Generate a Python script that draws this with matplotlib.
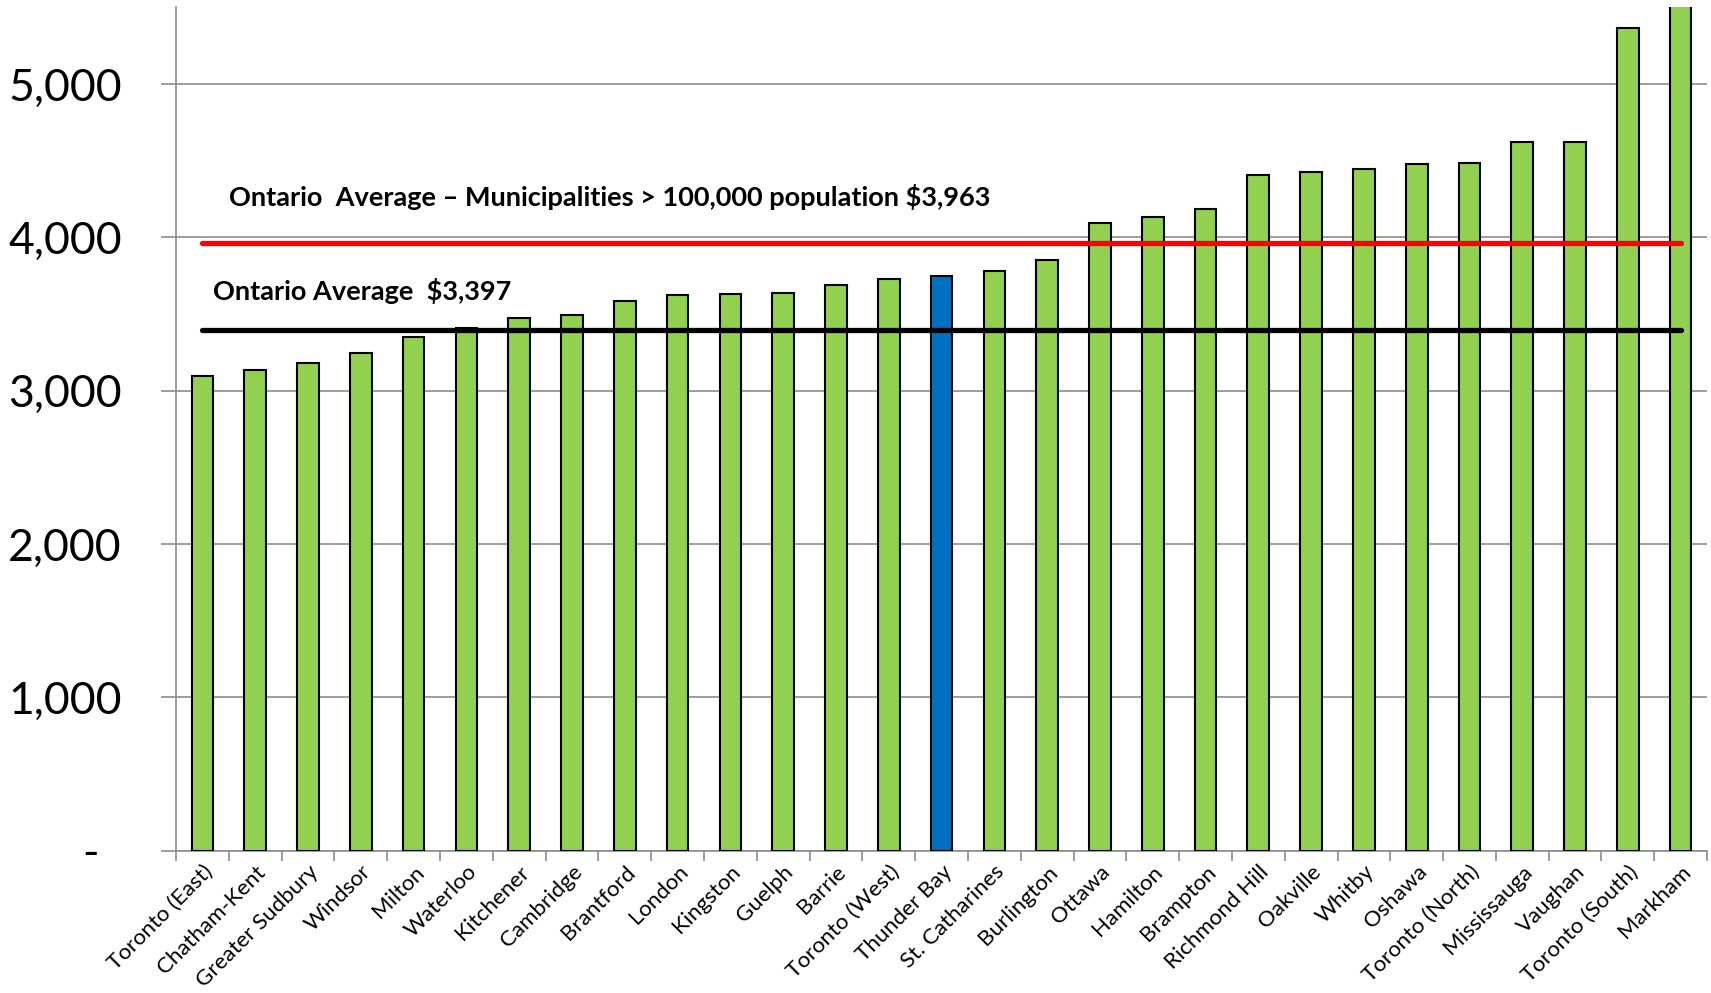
import matplotlib
matplotlib.use("Agg")
import matplotlib.pyplot as plt
from matplotlib.ticker import FixedLocator, FuncFormatter
import numpy as np

# ── Data ─────────────────────────────────────────────────────────────────────
cities = [
    "Toronto (East)", "Chatham-Kent", "Greater Sudbury", "Windsor", "Milton",
    "Waterloo", "Kitchener", "Cambridge", "Brantford", "London", "Kingston",
    "Guelph", "Barrie", "Toronto (West)", "Thunder Bay", "St. Catharines",
    "Burlington", "Ottawa", "Hamilton", "Brampton", "Richmond Hill", "Oakville",
    "Whitby", "Oshawa", "Toronto (North)", "Mississauga", "Vaughan",
    "Toronto (South)", "Markham",
]
values = [
    3093, 3136, 3179, 3244, 3352, 3412, 3477, 3494, 3588, 3627, 3632,
    3638, 3688, 3729, 3751, 3782, 3853, 4095, 4134, 4184, 4408, 4423,
    4447, 4477, 4486, 4621, 4625, 5368, 5800,
]
highlight = "Thunder Bay"
avg_all = 3397
avg_large = 3963
yticks = [0, 1000, 2000, 3000, 4000, 5000]

# ── Figure ───────────────────────────────────────────────────────────────────
plt.rcParams["font.family"] = ["Lato", "DejaVu Sans"]
fig = plt.figure(figsize=(17.11, 9.93), dpi=100)
ax = fig.add_axes([0.1029, 0.1433, 0.8948, 0.8493])

x = np.arange(len(cities))
colors = ["#0070C0" if c == highlight else "#92D050" for c in cities]
ax.bar(x, values, width=0.41, color=colors, edgecolor="black", linewidth=1.5, zorder=3)

# reference lines
ax.plot([x[0], x[-1]], [avg_large, avg_large], color="#FF0000", lw=3.8,
        solid_capstyle="round", zorder=4)
ax.plot([x[0], x[-1]], [avg_all, avg_all], color="black", lw=3.8,
        solid_capstyle="round", zorder=4)

ax.text(0.5, avg_large + 300, "Ontario  Average \u2013 Municipalities > 100,000 population $3,963",
        fontsize=19.5, fontweight="bold", va="center", ha="left", zorder=5)
ax.text(0.2, avg_all + 255, "Ontario Average  $3,397",
        fontsize=19.5, fontweight="bold", va="center", ha="left", zorder=5)

ax.set_xlim(-0.5, len(cities) - 0.5)
ax.set_ylim(0, 5500)

# y axis
ax.yaxis.set_major_locator(FixedLocator(yticks))
ax.yaxis.set_major_formatter(FuncFormatter(lambda v, p: "-  " if v == 0 else f"{v:,.0f}"))
ax.grid(axis="y", color="#8c8c8c", linewidth=1.2, zorder=0)
ax.tick_params(axis="y", length=11, width=1.2, color="#8c8c8c", labelsize=32, pad=28)

# x axis: labels at centres, tick marks at boundaries
ax.set_xticks(x)
ax.set_xticklabels(cities, rotation=45, ha="right", rotation_mode="anchor", fontsize=16)
ax.tick_params(axis="x", which="major", length=0, pad=8)
ax.set_xticks(np.arange(len(cities) + 1) - 0.5, minor=True)
ax.tick_params(axis="x", which="minor", length=7, width=1.2, color="#8c8c8c")

for side in ("top", "right"):
    ax.spines[side].set_visible(False)
for side in ("left", "bottom"):
    ax.spines[side].set_color("#8c8c8c")
    ax.spines[side].set_linewidth(1.2)

fig.savefig("out.png", dpi=100)
